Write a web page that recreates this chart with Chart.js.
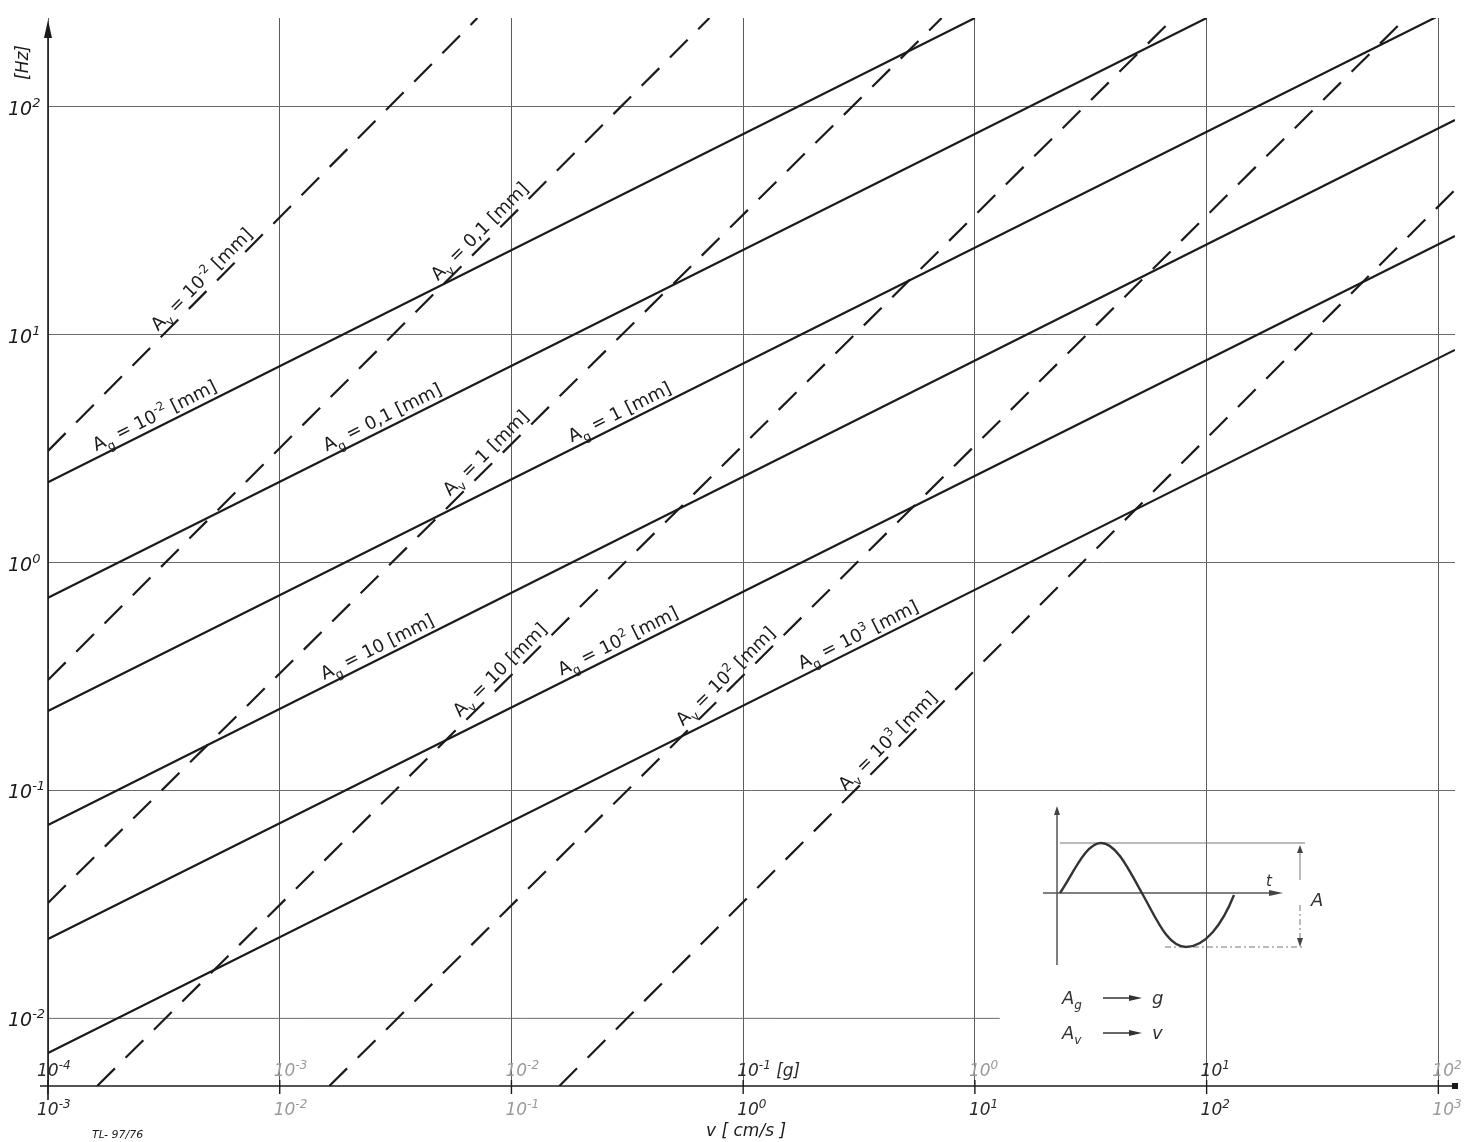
<!DOCTYPE html>
<html>
<head>
<meta charset="utf-8">
<title>Nomogramm A_g / A_v</title>
<script src="https://cdn.jsdelivr.net/npm/chart.js@4.4.1/dist/chart.umd.min.js"></script>
<style>
  html, body { margin: 0; padding: 0; background: #fff; }
  #wrap { width: 1469px; height: 1142px; position: relative; }
</style>
</head>
<body>
<div id="wrap"><canvas id="chartCanvas"></canvas></div>
<script>
// axis ranges: x = v [cm/s], y = f [Hz]
const vRange = [0.001, 1180];
const fRange = [0.00505, 245];

// decade ticks, lower row v [cm/s], upper row acceleration [g] on the same positions
const vTicks = [1e-3, 1e-2, 1e-1, 1, 10, 100, 1000];
const vTickLabels = [['10', '-3'], ['10', '-2'], ['10', '-1'], ['10', '0'], ['10', '1'], ['10', '2'], ['10', '3']];
const gTickLabels = [['10', '-4'], ['10', '-3'], ['10', '-2'], ['10', '-1', ' [g]'], ['10', '0'], ['10', '1'], ['10', '2']];
const fTicks = [0.1, 1, 10, 100];
const fTickLabels = [['10', '-1'], ['10', '0'], ['10', '1'], ['10', '2']];
// the 10^-2 Hz line only runs part of the way
const fShortGrid = [0.01, 12.8];

// solid lines, constant A_g: [v, f] read where they enter and leave the plot
const ag_001 = [[0.001, 2.25], [10, 245]];
const ag_01 = [[0.001, 0.700], [100, 245]];
const ag_1 = [[0.001, 0.223], [1000, 250]];
const ag_10 = [[0.001, 0.0705], [1180, 87.4]];
const ag_100 = [[0.001, 0.0223], [1180, 27.1]];
const ag_1000 = [[0.001, 0.00705], [1180, 8.57]];
const agNames = [['10', '-2'], ['0,1'], ['1'], ['10'], ['10', '2'], ['10', '3']];

// dashed lines, constant A_v
const av_001 = [[0.001, 3.09], [0.0713, 245]];
const av_01 = [[0.001, 0.305], [0.715, 245]];
const av_1 = [[0.001, 0.0321], [7.19, 245]];
const av_10 = [[0.00163, 0.00505], [72.1, 245]];
const av_100 = [[0.01637, 0.00505], [724, 245]];
const av_1000 = [[0.161, 0.00505], [1180, 43.2]];
const avNames = [['10', '-2'], ['0,1'], ['1'], ['10'], ['10', '2'], ['10', '3']];

// where along each line (v) its label starts
const agLabelAt = [0.00166, 0.0164, 0.187, 0.016, 0.169, 1.84];
const avLabelAt = [0.00311, 0.0503, 0.0566, 0.0626, 0.574, 2.88];

const agLines = [ag_001, ag_01, ag_1, ag_10, ag_100, ag_1000];
const avLines = [av_001, av_01, av_1, av_10, av_100, av_1000];

const INK = '#1b1b1b';
const FONT = '"DejaVu Sans"';
// tick labels that came out pale in the print
const paleG = [1, 2, 4, 6];
const paleV = [1, 2, 6];

function toPts(arr) {
  return arr.map(p => ({ x: p[0], y: p[1] }));
}

const datasets = [];
agLines.forEach(l => datasets.push({
  data: toPts(l), borderColor: INK, borderWidth: 2.2, pointRadius: 0, tension: 0, fill: false
}));
avLines.forEach(l => datasets.push({
  data: toPts(l), borderColor: INK, borderWidth: 2.2, pointRadius: 0, tension: 0, fill: false,
  borderDash: [25, 15]
}));

// text with sub/superscripts: parts = [text, shift] (1 sup, -1 sub)
function richText(c, parts, x, y, opt) {
  const size = opt.size || 18;
  const style = opt.italic ? 'italic ' : '';
  c.save();
  c.translate(x, y);
  if (opt.angle) c.rotate(opt.angle);
  const fonts = parts.map(p => style + (p[1] ? Math.round(size * 0.68) : size) + 'px ' + FONT);
  let w = 0;
  parts.forEach((p, i) => { c.font = fonts[i]; w += c.measureText(p[0]).width; });
  let cx = opt.align === 'center' ? -w / 2 : (opt.align === 'right' ? -w : 0);
  c.fillStyle = opt.color || INK;
  c.textBaseline = 'alphabetic';
  parts.forEach((p, i) => {
    c.font = fonts[i];
    const dy = p[1] === 1 ? -size * 0.42 : (p[1] === -1 ? size * 0.3 : 0);
    c.fillText(p[0], cx, dy);
    cx += c.measureText(p[0]).width;
  });
  c.restore();
  return w;
}

function tickParts(lbl) {
  const parts = [[lbl[0], 0]];
  if (lbl[1]) parts.push([lbl[1], 1]);
  if (lbl[2]) parts.push([lbl[2], 0]);
  return parts;
}

function lineLabel(c, xs, ys, line, atV, sym, name) {
  const x0 = xs.getPixelForValue(line[0][0]), y0 = ys.getPixelForValue(line[0][1]);
  const x1 = xs.getPixelForValue(line[1][0]), y1 = ys.getPixelForValue(line[1][1]);
  const ang = Math.atan2(y1 - y0, x1 - x0);
  const ax = xs.getPixelForValue(atV);
  const ay = y0 + (ax - x0) / (x1 - x0) * (y1 - y0);
  const parts = [['A', 0], [sym, -1], [' = ', 0], [name[0], 0]];
  if (name[1]) parts.push([name[1], 1]);
  parts.push([' [mm]', 0]);
  c.save();
  c.translate(ax, ay);
  c.rotate(ang);
  richText(c, parts, 0, -6, { size: 18 });
  c.restore();
}

function arrowHead(c, x, y, dir, len, half) {
  c.beginPath();
  if (dir === 'up') { c.moveTo(x, y); c.lineTo(x - half, y + len); c.lineTo(x + half, y + len); }
  else { c.moveTo(x, y); c.lineTo(x - len, y - half); c.lineTo(x - len, y + half); }
  c.closePath();
  c.fill();
}

const overlay = {
  id: 'overlay',
  beforeDatasetsDraw(chart) {
    const c = chart.ctx, xs = chart.scales.x, ys = chart.scales.y;
    const y = ys.getPixelForValue(fShortGrid[0]);
    c.save();
    c.strokeStyle = '#6a6a6a';
    c.lineWidth = 1;
    c.beginPath();
    c.moveTo(xs.left, y);
    c.lineTo(xs.getPixelForValue(fShortGrid[1]), y);
    c.stroke();
    c.restore();
  },
  afterDraw(chart) {
    const c = chart.ctx, xs = chart.scales.x, ys = chart.scales.y;
    const area = chart.chartArea;
    c.save();
    c.strokeStyle = INK;
    c.fillStyle = INK;
    c.lineWidth = 1.6;

    // y axis with arrow
    c.beginPath();
    c.moveTo(area.left, area.bottom + 14);
    c.lineTo(area.left, area.top + 6);
    c.stroke();
    arrowHead(c, area.left, area.top + 2, 'up', 18, 4);

    // x axis
    c.lineWidth = 1.4;
    c.beginPath();
    c.moveTo(area.left - 8, area.bottom);
    c.lineTo(area.right, area.bottom);
    c.stroke();
    c.fillRect(area.right - 3, area.bottom - 3, 6, 6);
    vTicks.forEach(v => {
      const x = xs.getPixelForValue(v);
      c.beginPath();
      c.moveTo(x, area.bottom - 6);
      c.lineTo(x, area.bottom + 8);
      c.stroke();
    });

    // y tick labels
    fTicks.forEach((f, i) => {
      const y = ys.getPixelForValue(f);
      richText(c, tickParts(fTickLabels[i]), 8, y + 8, { size: 19, italic: true });
    });
    richText(c, [['10', 0], ['-2', 1]], 8, ys.getPixelForValue(fShortGrid[0]) + 8, { size: 19, italic: true });
    c.save();
    c.translate(28, 80);
    c.rotate(-Math.PI / 2);
    c.font = 'italic 17px ' + FONT;
    c.fillStyle = INK;
    c.fillText('[Hz]', 0, 0);
    c.restore();

    // x tick labels: g above the axis, v below
    vTicks.forEach((v, i) => {
      const x = xs.getPixelForValue(v);
      const dx = i === 0 ? -11 : -6;
      const cg = paleG.includes(i) ? '#9a9a9a' : '#2a2a2a';
      const cv = paleV.includes(i) ? '#9a9a9a' : '#2a2a2a';
      richText(c, tickParts(gTickLabels[i]), x + dx, area.bottom - 10, { size: 17, italic: true, color: cg });
      richText(c, tickParts(vTickLabels[i]), x + dx, area.bottom + 29, { size: 17, italic: true, color: cv });
    });
    c.font = 'italic 17px ' + FONT;
    c.fillStyle = INK;
    c.fillText('v [ cm/s ]', 706, 1136);
    c.font = 'italic 11px ' + FONT;
    c.fillText('TL- 97/76', 92, 1138);

    // line labels
    agLines.forEach((l, i) => lineLabel(c, xs, ys, l, agLabelAt[i], 'g', agNames[i]));
    avLines.forEach((l, i) => lineLabel(c, xs, ys, l, avLabelAt[i], 'v', avNames[i]));

    // inset sketch of the amplitude
    c.strokeStyle = '#555';
    c.fillStyle = '#444';
    c.lineWidth = 1.5;
    c.beginPath();
    c.moveTo(1057, 965); c.lineTo(1057, 812);
    c.moveTo(1043, 893); c.lineTo(1270, 893);
    c.stroke();
    arrowHead(c, 1057, 806, 'up', 9, 3);
    arrowHead(c, 1283, 893, 'right', 14, 3);
    c.lineWidth = 1;
    c.strokeStyle = '#777';
    c.beginPath();
    c.moveTo(1060, 843); c.lineTo(1305, 843);
    c.stroke();
    c.setLineDash([6, 3, 2, 3]);
    c.beginPath();
    c.moveTo(1165, 947); c.lineTo(1305, 947);
    c.moveTo(1300, 905); c.lineTo(1300, 940);
    c.stroke();
    c.setLineDash([]);
    c.beginPath();
    c.moveTo(1300, 848); c.lineTo(1300, 880);
    c.stroke();
    arrowHead(c, 1300, 845, 'up', 8, 3);
    c.beginPath();
    c.moveTo(1300, 947); c.lineTo(1297, 938); c.lineTo(1303, 938); c.closePath(); c.fill();
    c.strokeStyle = '#333';
    c.lineWidth = 2.4;
    c.beginPath();
    c.moveTo(1060, 893);
    c.bezierCurveTo(1074, 872, 1086, 843, 1101, 843);
    c.bezierCurveTo(1116, 843, 1128, 868, 1143, 895);
    c.bezierCurveTo(1157, 920, 1168, 947, 1186, 947);
    c.bezierCurveTo(1205, 947, 1222, 925, 1234, 895);
    c.stroke();
    c.font = 'italic 15px ' + FONT;
    c.fillStyle = '#333';
    c.fillText('t', 1266, 886);
    c.font = 'italic 18px ' + FONT;
    c.fillText('A', 1311, 906);

    // legend of the two symbols
    richText(c, [['A', 0], ['g', -1]], 1062, 1004, { size: 18, italic: true, color: '#333' });
    richText(c, [['A', 0], ['v', -1]], 1062, 1039, { size: 18, italic: true, color: '#333' });
    c.strokeStyle = '#333';
    c.lineWidth = 1.5;
    [998, 1033].forEach(y => {
      c.beginPath(); c.moveTo(1103, y); c.lineTo(1130, y); c.stroke();
      arrowHead(c, 1142, y, 'right', 13, 3);
    });
    c.font = 'italic 18px ' + FONT;
    c.fillText('g', 1152, 1004);
    c.fillText('v', 1152, 1039);
    c.restore();
  }
};

const chartCtx = document.getElementById('chartCanvas').getContext('2d');
new Chart(chartCtx, {
  type: 'line',
  data: { datasets: datasets },
  plugins: [overlay],
  options: {
    responsive: true,
    maintainAspectRatio: false,
    animation: false,
    events: [],
    layout: { padding: { left: 48, right: 14, top: 18, bottom: 56 } },
    plugins: { legend: { display: false }, tooltip: { enabled: false } },
    scales: {
      x: {
        type: 'logarithmic', min: vRange[0], max: vRange[1],
        afterBuildTicks: s => { s.ticks = vTicks.map(v => ({ value: v })); },
        ticks: { display: false },
        grid: { color: '#5c5c5c', lineWidth: 1, drawTicks: false },
        border: { display: false }
      },
      y: {
        type: 'logarithmic', min: fRange[0], max: fRange[1],
        afterBuildTicks: s => { s.ticks = fTicks.map(v => ({ value: v })); },
        ticks: { display: false },
        grid: { color: '#6a6a6a', lineWidth: 1, drawTicks: false },
        border: { display: false }
      }
    }
  }
});
</script>
</body>
</html>
